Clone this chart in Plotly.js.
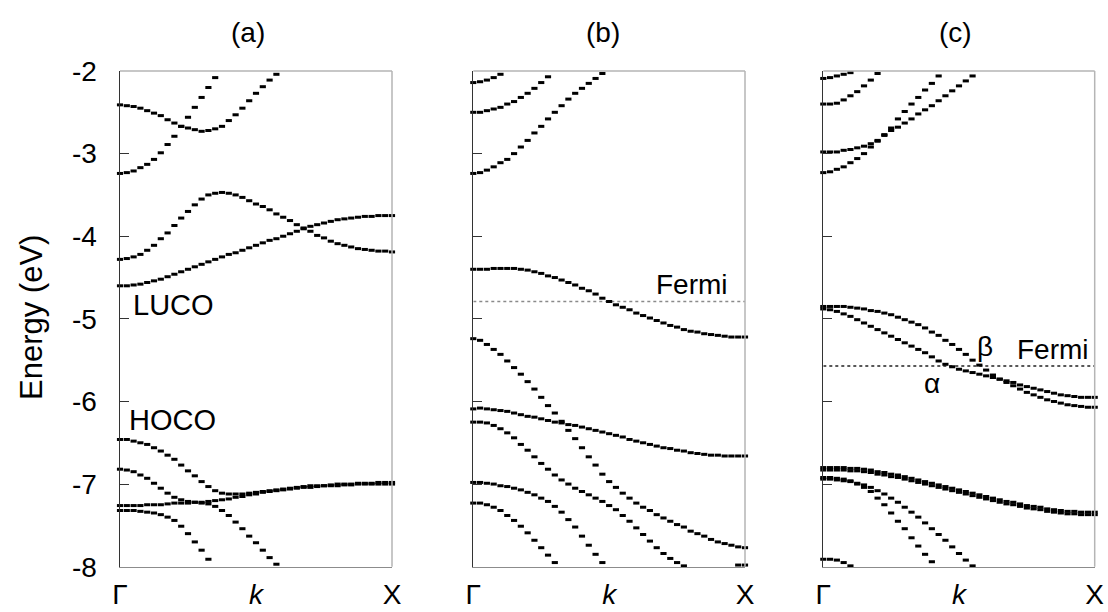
<!DOCTYPE html>
<html>
<head>
<meta charset="utf-8">
<script src="https://cdn.plot.ly/plotly-3.0.1.min.js"></script>
<style>html,body{margin:0;padding:0;background:#fff;}#chart{width:1108px;height:612px;}</style>
</head>
<body>
<div id="chart"></div>
<script>
// k-path sampling (Γ -> X)
const k = [0,0.025,0.05,0.075,0.1,0.125,0.15,0.175,0.2,0.225,0.25,0.275,0.3,0.325,0.35,0.375,0.4,0.425,0.45,0.475,0.5,0.525,0.55,0.575,0.6,0.625,0.65,0.675,0.7,0.725,0.75,0.775,0.8,0.825,0.85,0.875,0.9,0.925,0.95,0.975,1];
const kTail = [0.975,1];
const kTickVals = [0,0.5,1];
const kTickText = ['Γ','<i>k</i>','X'];
const eTickVals = [-8,-7,-6,-5,-4,-3,-2];
const eTickText = ['-8','-7','-6','-5','-4','-3','-2'];
const panelTitles = ['(a)','(b)','(c)'];

// Panel (a) bands (eV)
const a1 = [-2.41,-2.42,-2.43,-2.45,-2.48,-2.51,-2.54,-2.59,-2.63,-2.67,-2.69,-2.71,-2.73,-2.72,-2.70,-2.67,-2.60,-2.53,-2.45,-2.36,-2.27,-2.19,-2.11,-2.04];
const a2 = [-3.24,-3.23,-3.21,-3.17,-3.13,-3.07,-2.99,-2.89,-2.79,-2.67,-2.56,-2.44,-2.32,-2.20,-2.08];
const a3 = [-4.28,-4.27,-4.25,-4.22,-4.17,-4.11,-4.03,-3.96,-3.87,-3.78,-3.70,-3.62,-3.55,-3.50,-3.48,-3.47,-3.48,-3.50,-3.53,-3.57,-3.61,-3.64,-3.68,-3.73,-3.77,-3.81,-3.86,-3.90,-3.94,-3.99,-4.02,-4.06,-4.09,-4.11,-4.13,-4.15,-4.16,-4.17,-4.18,-4.18,-4.19];
const a4 = [-4.60,-4.60,-4.59,-4.58,-4.56,-4.54,-4.52,-4.49,-4.46,-4.43,-4.40,-4.37,-4.34,-4.31,-4.28,-4.25,-4.22,-4.20,-4.17,-4.14,-4.11,-4.08,-4.05,-4.03,-4.00,-3.97,-3.94,-3.91,-3.88,-3.86,-3.84,-3.82,-3.80,-3.79,-3.78,-3.77,-3.76,-3.76,-3.75,-3.75,-3.75];
const a5 = [-6.46,-6.46,-6.48,-6.50,-6.52,-6.56,-6.60,-6.65,-6.70,-6.77,-6.84,-6.90,-6.97,-7.03,-7.08,-7.11,-7.12,-7.12,-7.12,-7.11,-7.10,-7.09,-7.08,-7.07,-7.06,-7.05,-7.04,-7.03,-7.02,-7.02,-7.02,-7.01,-7.00,-7.00,-7.00,-6.99,-6.99,-6.99,-6.98,-6.98,-6.98];
const a6 = [-6.82,-6.83,-6.85,-6.89,-6.93,-6.99,-7.05,-7.11,-7.16,-7.19,-7.21,-7.22,-7.23,-7.24,-7.27,-7.32,-7.38,-7.46,-7.54,-7.63,-7.71,-7.80,-7.89,-7.97];
const a7 = [-7.26,-7.26,-7.26,-7.26,-7.25,-7.25,-7.25,-7.24,-7.23,-7.23,-7.23,-7.22,-7.22,-7.21,-7.20,-7.19,-7.18,-7.16,-7.15,-7.13,-7.12,-7.10,-7.09,-7.08,-7.07,-7.06,-7.05,-7.04,-7.04,-7.03,-7.02,-7.02,-7.02,-7.01,-7.01,-7.00,-7.00,-7.00,-7.00,-7.00,-7.00];
const a8 = [-7.32,-7.32,-7.32,-7.33,-7.34,-7.35,-7.37,-7.40,-7.44,-7.51,-7.60,-7.70,-7.80,-7.91];

// Panel (b) bands (eV)
const b1 = [-2.14,-2.13,-2.11,-2.08,-2.04];
const b2 = [-2.50,-2.50,-2.48,-2.46,-2.44,-2.40,-2.37,-2.32,-2.27,-2.21,-2.14,-2.07];
const b3 = [-3.24,-3.23,-3.20,-3.16,-3.11,-3.07,-3.00,-2.92,-2.84,-2.75,-2.67,-2.58,-2.50,-2.42,-2.34,-2.27,-2.21,-2.15,-2.09,-2.03];
const b4 = [-4.40,-4.40,-4.40,-4.39,-4.39,-4.39,-4.39,-4.40,-4.41,-4.43,-4.45,-4.48,-4.50,-4.53,-4.56,-4.59,-4.63,-4.66,-4.70,-4.75,-4.79,-4.83,-4.86,-4.89,-4.93,-4.96,-4.99,-5.02,-5.05,-5.08,-5.10,-5.13,-5.15,-5.16,-5.18,-5.19,-5.20,-5.21,-5.22,-5.22,-5.22];
const b5 = [-5.24,-5.26,-5.31,-5.37,-5.43,-5.51,-5.59,-5.67,-5.76,-5.85,-5.95,-6.05,-6.14,-6.24,-6.35,-6.45,-6.56,-6.67,-6.77,-6.88,-6.97,-7.04,-7.11,-7.17,-7.23,-7.28,-7.32,-7.37,-7.41,-7.45,-7.49,-7.52,-7.57,-7.60,-7.63,-7.67,-7.70,-7.72,-7.74,-7.76,-7.77];
const b6 = [-6.09,-6.08,-6.09,-6.10,-6.11,-6.12,-6.14,-6.16,-6.18,-6.19,-6.21,-6.23,-6.25,-6.26,-6.28,-6.29,-6.31,-6.33,-6.35,-6.37,-6.39,-6.41,-6.43,-6.46,-6.48,-6.50,-6.52,-6.54,-6.56,-6.57,-6.59,-6.60,-6.62,-6.63,-6.64,-6.65,-6.65,-6.66,-6.66,-6.66,-6.66];
const b7 = [-6.25,-6.25,-6.26,-6.29,-6.33,-6.38,-6.44,-6.52,-6.59,-6.67,-6.75,-6.82,-6.89,-6.95,-7.00,-7.05,-7.09,-7.13,-7.17,-7.21,-7.26,-7.31,-7.38,-7.45,-7.53,-7.61,-7.69,-7.77,-7.84,-7.90,-7.95,-7.99];
const b8 = [-6.98,-6.98,-6.99,-7.00,-7.02,-7.03,-7.05,-7.07,-7.10,-7.13,-7.17,-7.21,-7.27,-7.34,-7.43,-7.52,-7.63,-7.74,-7.85,-7.95];
const b9 = [-7.23,-7.23,-7.25,-7.28,-7.32,-7.38,-7.44,-7.51,-7.59,-7.68,-7.77,-7.86,-7.95];
const b10 = [-7.98,-7.98];
const fermiB = -4.79;

// Panel (c) bands (eV)
const c1 = [-2.09,-2.08,-2.06,-2.04,-2.02];
const c2 = [-2.40,-2.40,-2.39,-2.35,-2.30,-2.25,-2.18,-2.11,-2.03];
const c3 = [-2.98,-2.98,-2.98,-2.96,-2.95,-2.93,-2.91,-2.88,-2.84,-2.77,-2.69,-2.58,-2.49,-2.40,-2.32,-2.23,-2.15,-2.06];
const c4 = [-3.23,-3.22,-3.19,-3.16,-3.11,-3.06,-3.00,-2.92,-2.85,-2.78,-2.72,-2.68,-2.63,-2.58,-2.52,-2.47,-2.42,-2.36,-2.30,-2.24,-2.18,-2.12,-2.06];
const c5 = [-4.85,-4.85,-4.85,-4.85,-4.86,-4.87,-4.88,-4.90,-4.91,-4.93,-4.95,-4.98,-5.01,-5.04,-5.07,-5.11,-5.16,-5.20,-5.26,-5.31,-5.37,-5.43,-5.50,-5.56,-5.62,-5.68,-5.73,-5.77,-5.81,-5.85,-5.89,-5.92,-5.95,-5.98,-6.00,-6.02,-6.04,-6.05,-6.06,-6.07,-6.07];
const c6 = [-4.88,-4.89,-4.91,-4.94,-4.97,-5.01,-5.05,-5.09,-5.13,-5.17,-5.21,-5.25,-5.29,-5.33,-5.37,-5.41,-5.46,-5.51,-5.55,-5.58,-5.61,-5.63,-5.65,-5.67,-5.69,-5.71,-5.73,-5.75,-5.77,-5.80,-5.82,-5.84,-5.86,-5.88,-5.90,-5.92,-5.93,-5.94,-5.95,-5.95,-5.95];
const c7a = [-6.83,-6.83,-6.83,-6.83,-6.84,-6.84,-6.85,-6.86,-6.88,-6.89,-6.91,-6.92,-6.94,-6.96,-6.98,-7.00,-7.02,-7.04,-7.06,-7.08,-7.10,-7.12,-7.14,-7.16,-7.18,-7.20,-7.22,-7.24,-7.25,-7.27,-7.29,-7.30,-7.31,-7.33,-7.34,-7.35,-7.36,-7.36,-7.37,-7.37,-7.37];
const c7b = [-6.80,-6.80,-6.80,-6.80,-6.81,-6.81,-6.82,-6.83,-6.85,-6.86,-6.88,-6.89,-6.91,-6.93,-6.95,-6.97,-6.99,-7.01,-7.03,-7.05,-7.07,-7.09,-7.11,-7.13,-7.15,-7.17,-7.19,-7.21,-7.22,-7.24,-7.26,-7.27,-7.28,-7.30,-7.31,-7.32,-7.33,-7.33,-7.34,-7.34,-7.34];
const c8a = [-6.92,-6.92,-6.93,-6.94,-6.96,-7.00,-7.04,-7.09,-7.17,-7.25,-7.35,-7.45,-7.54,-7.65,-7.75,-7.85,-7.94];
const c8b = [-6.94,-6.94,-6.95,-6.96,-6.97,-6.99,-7.01,-7.04,-7.08,-7.12,-7.17,-7.22,-7.28,-7.34,-7.40,-7.47,-7.54,-7.61,-7.68,-7.76,-7.84,-7.92,-7.99];
const c9 = [-7.91,-7.91,-7.92,-7.95,-7.99];
const fermiC = -5.57;

const FONT = 'Liberation Sans, Arial, sans-serif';

function band(y, n, kk) {
  const xs = (kk || k).slice(0, y.length);
  return {
    x: xs, y: y, xaxis: 'x' + (n === 1 ? '' : n), yaxis: 'y' + (n === 1 ? '' : n),
    type: 'scatter', mode: 'markers', cliponaxis: false, hoverinfo: 'skip', showlegend: false,
    marker: {symbol: 'line-ew', size: 4.4, color: '#000', line: {width: 3, color: '#000'}}
  };
}
function fermi(e, n, col) {
  return {
    x: [0, 1], y: [e, e], xaxis: 'x' + n, yaxis: 'y' + n, type: 'scatter', mode: 'lines',
    hoverinfo: 'skip', showlegend: false, line: {color: col, width: 1.5, dash: 'dot'}
  };
}

const traces = [
  fermi(fermiB, 2, '#8a8a8a'), fermi(fermiC, 3, '#222'),
  band(a1,1), band(a2,1), band(a3,1), band(a4,1), band(a5,1), band(a6,1), band(a7,1), band(a8,1),
  band(b1,2), band(b2,2), band(b3,2), band(b4,2), band(b5,2), band(b6,2), band(b7,2), band(b8,2), band(b9,2), band(b10,2,kTail),
  band(c1,3), band(c2,3), band(c3,3), band(c4,3), band(c5,3), band(c6,3), band(c7a,3), band(c7b,3), band(c8a,3), band(c8b,3), band(c9,3)
];

const W = 1108, H = 612;
const xDom = [[120/W, 392/W], [473.3/W, 745/W], [823.3/W, 1094.7/W]];
const yDom = [1 - 566.7/H, 1 - 71/H];

function xax(i, yname) {
  return {
    domain: xDom[i], anchor: yname, range: [0, 1], showgrid: false, zeroline: false,
    showline: true, linecolor: '#8c8c8c', linewidth: 1.5,
    tickmode: 'array', tickvals: kTickVals, ticktext: kTickText, ticks: '',
    tickfont: {family: FONT, size: 28, color: '#000'}, ticklabelstandoff: 2, fixedrange: true
  };
}
function yax(i, xname, labels) {
  return {
    domain: yDom, anchor: xname, range: [-8, -2], showgrid: false, zeroline: false,
    showline: true, linecolor: '#333', linewidth: 1.5,
    ticks: 'inside', ticklen: 9, tickwidth: 1, tickcolor: '#333',
    tickmode: 'array', tickvals: eTickVals, ticktext: eTickText, showticklabels: labels,
    tickfont: {family: FONT, size: 28, color: '#000'}, ticklabelstandoff: 16, fixedrange: true
  };
}

const shapes = [];
['', '2', '3'].forEach(function (s) {
  shapes.push({type: 'line', xref: 'x' + s + ' domain', yref: 'y' + s + ' domain', x0: 0, x1: 1, y0: 1, y1: 1, line: {color: '#b5b5b5', width: 1.5}});
  shapes.push({type: 'line', xref: 'x' + s + ' domain', yref: 'y' + s + ' domain', x0: 1, x1: 1, y0: 0, y1: 1, line: {color: '#b5b5b5', width: 1.5}});
});

const titleX = [248, 603, 955];
const annotations = panelTitles.map(function (t, i) {
  return {text: t, xref: 'paper', yref: 'paper', x: titleX[i] / W, y: 1 - 32 / H, xanchor: 'center', yanchor: 'middle',
    showarrow: false, font: {family: FONT, size: 28, color: '#000'}};
});
annotations.push({text: 'Energy (eV)', xref: 'paper', yref: 'paper', x: 31 / W, y: 1 - 318 / H, textangle: -90,
  xanchor: 'center', yanchor: 'middle', showarrow: false, font: {family: FONT, size: 31, color: '#000'}});
annotations.push({text: 'LUCO', xref: 'x', yref: 'y', x: 0.04, y: -4.83, xanchor: 'left', yanchor: 'middle', showarrow: false, font: {family: FONT, size: 29, color: '#000'}});
annotations.push({text: 'HOCO', xref: 'x', yref: 'y', x: 0.027, y: -6.23, xanchor: 'left', yanchor: 'middle', showarrow: false, font: {family: FONT, size: 29, color: '#000'}});
annotations.push({text: 'Fermi', xref: 'x2', yref: 'y2', x: 0.665, y: -4.59, xanchor: 'left', yanchor: 'middle', showarrow: false, font: {family: FONT, size: 28, color: '#000'}});
annotations.push({text: 'Fermi', xref: 'x3', yref: 'y3', x: 0.705, y: -5.37, xanchor: 'left', yanchor: 'middle', showarrow: false, font: {family: FONT, size: 28, color: '#000'}});
annotations.push({text: 'β', xref: 'x3', yref: 'y3', x: 0.596, y: -5.34, xanchor: 'center', yanchor: 'middle', showarrow: false, font: {family: FONT, size: 28, color: '#000'}});
annotations.push({text: 'α', xref: 'x3', yref: 'y3', x: 0.40, y: -5.78, xanchor: 'center', yanchor: 'middle', showarrow: false, font: {family: FONT, size: 28, color: '#000'}});

const layout = {
  width: W, height: H, margin: {l: 0, r: 0, t: 0, b: 0},
  paper_bgcolor: '#fff', plot_bgcolor: '#fff', showlegend: false,
  font: {family: FONT, color: '#000'},
  xaxis: xax(0, 'y'), yaxis: yax(0, 'x', true),
  xaxis2: xax(1, 'y2'), yaxis2: yax(1, 'x2', false),
  xaxis3: xax(2, 'y3'), yaxis3: yax(2, 'x3', false),
  shapes: shapes, annotations: annotations
};

Plotly.newPlot('chart', traces, layout, {staticPlot: true, displayModeBar: false});
</script>
</body>
</html>
